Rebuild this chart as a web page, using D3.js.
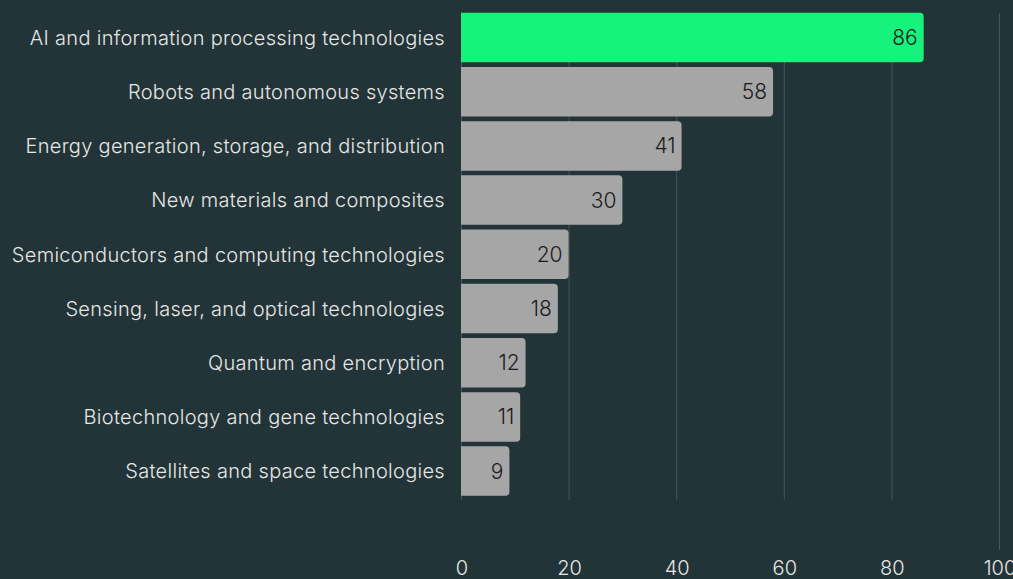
<!DOCTYPE html>
<html>
<head>
<meta charset="utf-8">
<script src="https://cdn.jsdelivr.net/npm/d3@7"></script>
<style>
  html, body { margin: 0; padding: 0; background: #223437; }
  svg { display: block; }
</style>
</head>
<body>
<div id="chart"></div>
<script>
// Chart data
const categories = [
    "AI and information processing technologies",
    "Robots and autonomous systems",
    "Energy generation, storage, and distribution",
    "New materials and composites",
    "Semiconductors and computing technologies",
    "Sensing, laser, and optical technologies",
    "Quantum and encryption",
    "Biotechnology and gene technologies",
    "Satellites and space technologies"
];
const values = [86, 58, 41, 30, 20, 18, 12, 11, 9];
const xTicks = [0, 20, 40, 60, 80, 100];

const width = 1013;
const height = 579;
const margin = { top: 10.4, right: 14, bottom: 79, left: 461 };
const font = "Inter, sans-serif";

const svg = d3.select("#chart").append("svg")
    .attr("width", width)
    .attr("height", height)
    .style("font-family", font);

svg.append("rect")
    .attr("width", width)
    .attr("height", height)
    .attr("fill", "#223437");

const x = d3.scaleLinear()
    .domain([0, 100])
    .range([margin.left, width - margin.right]);

const y = d3.scaleBand()
    .domain(categories)
    .range([margin.top, height - margin.bottom - 1.8])
    .paddingInner(0.086)
    .paddingOuter(0.043);

const plotBottom = 500;

// Gridlines (the 100 line runs down to the tick row)
svg.append("g")
    .selectAll("line")
    .data(xTicks)
    .enter().append("line")
    .attr("x1", d => x(d) + 0.5)
    .attr("x2", d => x(d) + 0.5)
    .attr("y1", 13)
    .attr("y2", d => d === 100 ? 550 : plotBottom)
    .attr("stroke", "#42585a")
    .attr("stroke-width", 1);

// Bars with rounded right end
const r = 4;
function barPath(d, i) {
    const x0 = x(0), x1 = x(d), y0 = y(categories[i]), h = y.bandwidth();
    return `M${x0},${y0}H${x1 - r}Q${x1},${y0} ${x1},${y0 + r}` +
        `V${y0 + h - r}Q${x1},${y0 + h} ${x1 - r},${y0 + h}H${x0}Z`;
}

svg.append("g")
    .selectAll("path")
    .data(values)
    .enter().append("path")
    .attr("d", barPath)
    .attr("fill", (d, i) => i === 0 ? "#17f27c" : "#a6a6a6");

// Value labels inside bars
svg.append("g")
    .selectAll("text")
    .data(values)
    .enter().append("text")
    .attr("x", d => x(d) - 6)
    .attr("y", (d, i) => y(categories[i]) + y.bandwidth() / 2)
    .attr("dy", "0.36em")
    .attr("text-anchor", "end")
    .attr("fill", "#1c1c1c")
    .style("font-size", "21px")
    .style("font-weight", 300)
    .text(d => d);

// Category labels
svg.append("g")
    .selectAll("text")
    .data(categories)
    .enter().append("text")
    .attr("x", margin.left - 16)
    .attr("y", d => y(d) + y.bandwidth() / 2)
    .attr("dy", "0.36em")
    .attr("text-anchor", "end")
    .attr("fill", "#e6e6e6")
    .style("font-size", "20px")
    .style("letter-spacing", "0.3px")
    .style("font-weight", 300)
    .text(d => d);

// X axis
const xAxis = svg.append("g")
    .attr("transform", `translate(0.5,550)`)
    .call(d3.axisBottom(x).tickValues(xTicks).tickSize(0).tickPadding(11));

xAxis.select(".domain").remove();
xAxis.selectAll("text")
    .attr("fill", "#e6e6e6")
    .style("font-family", font)
    .style("font-weight", 300)
    .style("font-size", "20px");
</script>
</body>
</html>
